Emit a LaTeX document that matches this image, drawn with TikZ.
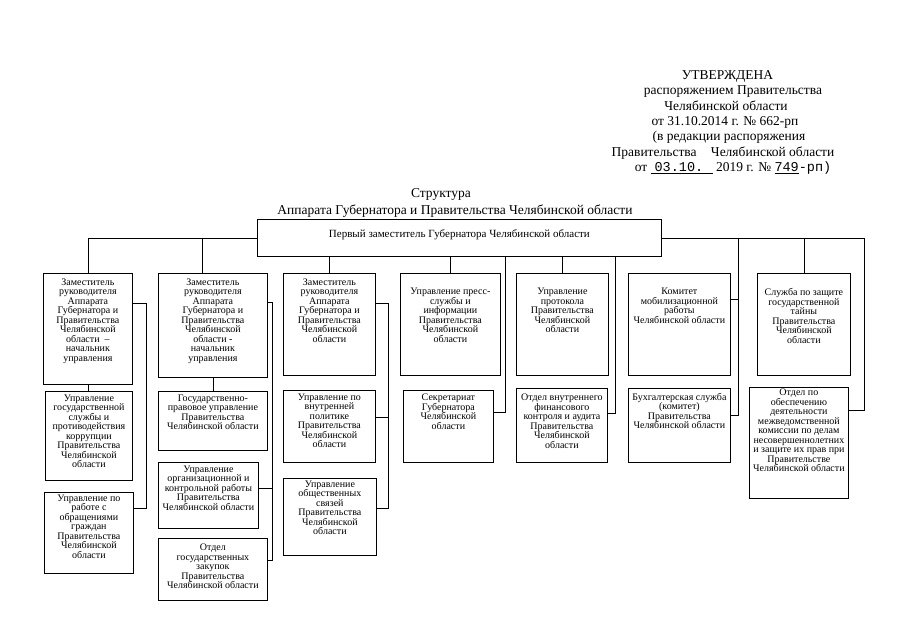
\documentclass[tikz,border=0pt]{standalone}
\usepackage{fontspec}
\setmainfont{Liberation Serif}
\newfontfamily\monofont{Liberation Mono}
\usetikzlibrary{calc}

\tikzset{
  box/.style={draw, line width=0.8pt, inner sep=0pt, anchor=north west},
  conn/.style={draw, line width=0.8pt},
  hdr/.style={inner sep=0pt, anchor=base, font=\fontsize{13.5}{15}\selectfont},
}
\newcommand\orgbox[7]{%
  \node[box] (#1) at (#2,#3) {\parbox[c][#5pt][t]{#4pt}{\centering\vspace*{#6pt}\fontsize{10}{9.5}\selectfont #7\par}};}

\begin{document}
\begin{tikzpicture}[x=1pt,y=-1pt]
\useasboundingbox (0,0) rectangle (905,640);

% header
\node[hdr] (h1) at (727.5,79.5) {УТВЕРЖДЕНА};
\node[hdr] (h2) at (733,94.5) {распоряжением Правительства};
\node[hdr] (h3) at (726,110) {Челябинской области};
\node[hdr] (h4) at (725,125) {от 31.10.2014 г. № 662-рп};
\node[hdr] (h5) at (729,140.5) {(в редакции распоряжения};
\node[hdr] (h6) at (723,156) {Правительства\hspace{11pt} Челябинской области};
\node[hdr] (h7) at (733,171.5) {от \underline{\makebox[62pt][l]{\hspace{4pt}{\monofont 03.10.}}} 2019 г. № \underline{\monofont 749}{\monofont -рп)}};

% title
\node[hdr] (t1) at (441,197.5) {Структура};
\node[hdr] (t2) at (455,214.5) {Аппарата Губернатора и Правительства Челябинской области};

% top box
\node[box] (top) at (257,219) {\parbox[c][37pt][t]{404pt}{\centering\vspace*{10pt}\fontsize{11}{12}\selectfont Первый заместитель Губернатора Челябинской области\par}};

% column 1
\orgbox{a1}{43}{273}{89}{111}{5}{Заместитель\\руководителя\\Аппарата\\Губернатора и\\Правительства\\Челябинской\\области~~–\\начальник\\управления}
\orgbox{a2}{45}{391}{87}{89}{3.5}{Управление\\государственной\\службы и\\противодействия\\коррупции\\Правительства\\Челябинской\\области}
\orgbox{a3}{44}{492}{89}{81}{2.5}{Управление по\\работе с\\обращениями\\граждан\\Правительства\\Челябинской\\области}

% column 2
\orgbox{b1}{158}{273}{109}{104}{5}{Заместитель\\руководителя\\Аппарата\\Губернатора и\\Правительства\\Челябинской\\области -\\начальник\\управления}
\orgbox{b2}{158}{391}{109}{59}{3.5}{Государственно-\\правовое управление\\Правительства\\Челябинской области}
\orgbox{b3}{158}{462}{100}{66}{3.5}{Управление\\организационной и\\контрольной работы\\Правительства\\Челябинской области}
\orgbox{b4}{158}{538}{109}{62}{5.5}{Отдел\\государственных\\закупок\\Правительства\\Челябинской области}

% column 3
\orgbox{c1}{283}{273}{92}{102}{5}{Заместитель\\руководителя\\Аппарата\\Губернатора и\\Правительства\\Челябинской\\области}
\orgbox{c2}{283}{390}{92}{72}{3.5}{Управление по\\внутренней\\политике\\Правительства\\Челябинской\\области}
\orgbox{c3}{283}{478}{93}{77}{2.5}{Управление\\общественных\\связей\\Правительства\\Челябинской\\области}

% column 4
\orgbox{d1}{400}{273}{100}{102}{15}{Управление пресс-\\службы и\\информации\\Правительства\\Челябинской\\области}
\orgbox{d2}{403}{390}{90}{72}{3.5}{Секретариат\\Губернатора\\Челябинской\\области}

% column 5
\orgbox{e1}{516}{273}{92}{102}{15}{Управление\\протокола\\Правительства\\Челябинской\\области}
\orgbox{e2}{516}{388}{91}{74}{5.5}{Отдел внутреннего\\финансового\\контроля и аудита\\Правительства\\Челябинской\\области}

% column 6
\orgbox{f1}{628}{273}{102}{102}{15}{Комитет\\мобилизационной\\работы\\Челябинской области}
\orgbox{f2}{628}{388}{102}{74}{4.5}{Бухгалтерская служба\\(комитет)\\Правительства\\Челябинской области}

% column 7
\orgbox{g1}{757}{273}{93}{102}{15}{Служба по защите\\государственной\\тайны\\Правительства\\Челябинской\\области}
\orgbox{g2}{749}{387}{99}{111}{1.5}{Отдел по\\обеспечению\\деятельности\\межведомственной\\комиссии по делам\\несовершеннолетних\\и защите их прав при\\Правительстве\\Челябинской области}

% helper coordinates for vertical lines
\coordinate (vb1) at (202,0);
\coordinate (va) at (146,508);
\coordinate (vb) at (272,560);
\coordinate (vc) at (388,508);
\coordinate (v4) at (505,0);
\coordinate (v5) at (615,0);
\coordinate (v6) at (738,0);

% connectors from top box
\draw[conn] (top.west) -| (a1.north);
\draw[conn] (top.west -| vb1) -- (vb1 |- b1.north);
\draw[conn] (top.south -| c1.north) -- (c1.north);
\draw[conn] (top.south -| d1.north) -- (d1.north);
\draw[conn] (top.south -| e1.north) -- (e1.north);
\draw[conn] (top.south -| v4) |- ($(d2.north east)+(0,22)$);
\draw[conn] (top.south -| v5) |- ($(e2.north east)+(0,25)$);
\draw[conn] (top.east) -| ($(g2.north east)+(16,23)$) -- ($(g2.north east)+(0,23)$);
\draw[conn] (top.east -| g1.north) -- (g1.north);
\draw[conn] (top.east -| v6) |- ($(f2.north east)+(0,27)$);
\draw[conn] ($(f1.north east)+(0,26)$) -- ($(f1.north east)+(8,26)$);

% column 1
\draw[conn] (a1.south) -- (a1.south |- a2.north);
\draw[conn] ($(a1.north east)+(0,30)$) -| (va) -- (va -| a3.east);

% column 2
\draw[conn] (b1.south) -- (b1.south |- b2.north);
\draw[conn] ($(b1.north east)+(0,29)$) -| (vb) -- (vb -| b4.east);
\coordinate (b3c) at ($(b3.north east)+(0,26)$);
\draw[conn] (b3c) -- (b3c -| vb);

% column 3
\draw[conn] ($(c1.north east)+(0,30)$) -| (vc) -- (vc -| c3.east);
\coordinate (c2c) at ($(c2.north east)+(0,27)$);
\draw[conn] (c2c) -- (c2c -| vc);

\end{tikzpicture}
\end{document}
